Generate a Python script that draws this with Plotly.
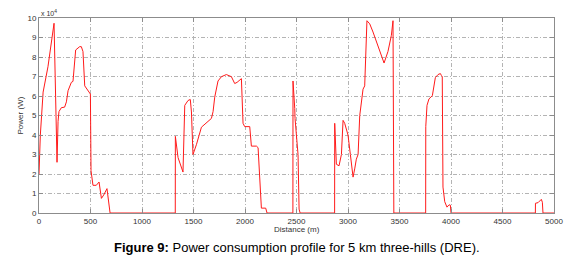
import plotly.graph_objects as go

# Distance (m) and power (x 10^4 W)
distance = [0, 13, 40, 87, 146, 175, 185, 194, 217, 249, 266, 282, 314, 330, 356, 395, 411, 427, 444, 466, 499, 505, 524, 556, 583, 606, 628, 660, 677, 690,
            1323, 1324, 1350, 1382, 1398, 1415, 1447, 1469, 1480, 1495, 1528, 1577, 1625, 1674, 1690, 1706, 1738, 1771, 1819, 1868, 1900, 1923, 1965, 1981, 1997, 2046, 2062, 2111, 2127, 2150, 2159, 2201, 2214,
            2465, 2466, 2483, 2486, 2499, 2515, 2525, 2535,
            2870, 2871, 2887, 2913, 2936, 2952, 2968, 3000, 3023, 3049, 3065, 3081, 3098, 3114, 3146, 3162, 3184, 3211, 3243, 3291, 3350, 3388, 3421, 3437, 3440, 3445,
            3754, 3755, 3767, 3786, 3819, 3832, 3848, 3874, 3897, 3907, 3915, 3922, 3939, 3961, 3981, 3994, 4000,
            4819, 4820, 4845, 4868, 4877, 4887, 4893, 5000]
power = [2.0, 4.0, 6.2, 7.5, 9.73, 2.6, 4.7, 5.2, 5.4, 5.43, 5.7, 6.27, 6.7, 6.75, 8.36, 8.53, 8.53, 8.28, 6.52, 6.35, 6.1, 2.17, 1.42, 1.42, 1.59, 0.75, 0.92, 1.25, 0.67, 0,
         0, 3.93, 2.84, 2.26, 2.1, 5.52, 5.77, 5.82, 5.18, 3.0, 3.5, 4.4, 4.6, 4.85, 5.2, 5.94, 6.77, 6.99, 7.1, 6.99, 6.64, 6.7, 6.89, 4.6, 4.43, 4.43, 3.43, 3.43, 3.35, 1.33, 0.25, 0.25, 0,
         0, 6.77, 5.35, 4.85, 4.0, 3.0, 0.2, 0,
         0, 4.6, 2.5, 2.42, 3.0, 4.75, 4.6, 4.0, 3.0, 1.84, 2.26, 2.76, 3.0, 5.0, 6.35, 6.52, 9.86, 9.7, 9.28, 8.53, 7.69, 8.28, 9.11, 9.86, 1.67, 0,
         0, 4.43, 5.52, 5.85, 6.02, 6.44, 6.94, 7.1, 7.15, 7.05, 7.0, 1.33, 0.58, 0.3, 0.42, 0.4, 0,
         0, 0.5, 0.53, 0.67, 0.7, 0.55, 0, 0]

x_ticks = [0, 500, 1000, 1500, 2000, 2500, 3000, 3500, 4000, 4500, 5000]
y_ticks = [0, 1, 2, 3, 4, 5, 6, 7, 8, 9, 10]

FONT = "Liberation Sans, Arial, sans-serif"

fig = go.Figure()
fig.add_trace(go.Scatter(x=distance, y=power, mode="lines",
                         line=dict(color="#ff1a1a", width=1), showlegend=False))

axis_common = dict(showgrid=True, gridcolor="#b4b4b4", griddash="4px,2px,1px,2px", gridwidth=1,
                   showline=True, linecolor="#8c8c8c", linewidth=1, mirror="ticks",
                   ticks="inside", ticklen=4, tickcolor="#8c8c8c",
                   tickfont=dict(family=FONT, size=8, color="#333"), zeroline=False)

# page body has an 8px margin: figure is sized so the plot area lands where the reference has it
fig.update_layout(
    width=576, height=257, autosize=False,
    margin=dict(l=31, r=30, t=6, b=52),
    paper_bgcolor="white", plot_bgcolor="white",
    xaxis=dict(range=[0, 5000], tickvals=x_ticks, **axis_common),
    yaxis=dict(range=[0, 10], tickvals=y_ticks, **axis_common),
    annotations=[
        dict(text="x 10<sup>4</sup>", x=0, y=1, xref="paper", yref="paper",
             xanchor="left", yanchor="bottom", showarrow=False,
             font=dict(family=FONT, size=7, color="#333"), yshift=-1),
        dict(text="Power (W)", x=-0.035, y=0.5, xref="paper", yref="paper",
             textangle=-90, showarrow=False, xanchor="center", yanchor="middle",
             font=dict(family=FONT, size=8, color="#333")),
        dict(text="Distance (m)", x=0.5, y=-0.087, xref="paper", yref="paper",
             showarrow=False, xanchor="center", yanchor="middle",
             font=dict(family=FONT, size=8, color="#333")),
        dict(text="<b>Figure 9:</b> Power consumption profile for 5 km three-hills (DRE).",
             x=0.5, y=-0.176, xref="paper", yref="paper",
             showarrow=False, xanchor="center", yanchor="middle",
             font=dict(family=FONT, size=13, color="#000")),
    ],
)

fig.write_html("out.html")
